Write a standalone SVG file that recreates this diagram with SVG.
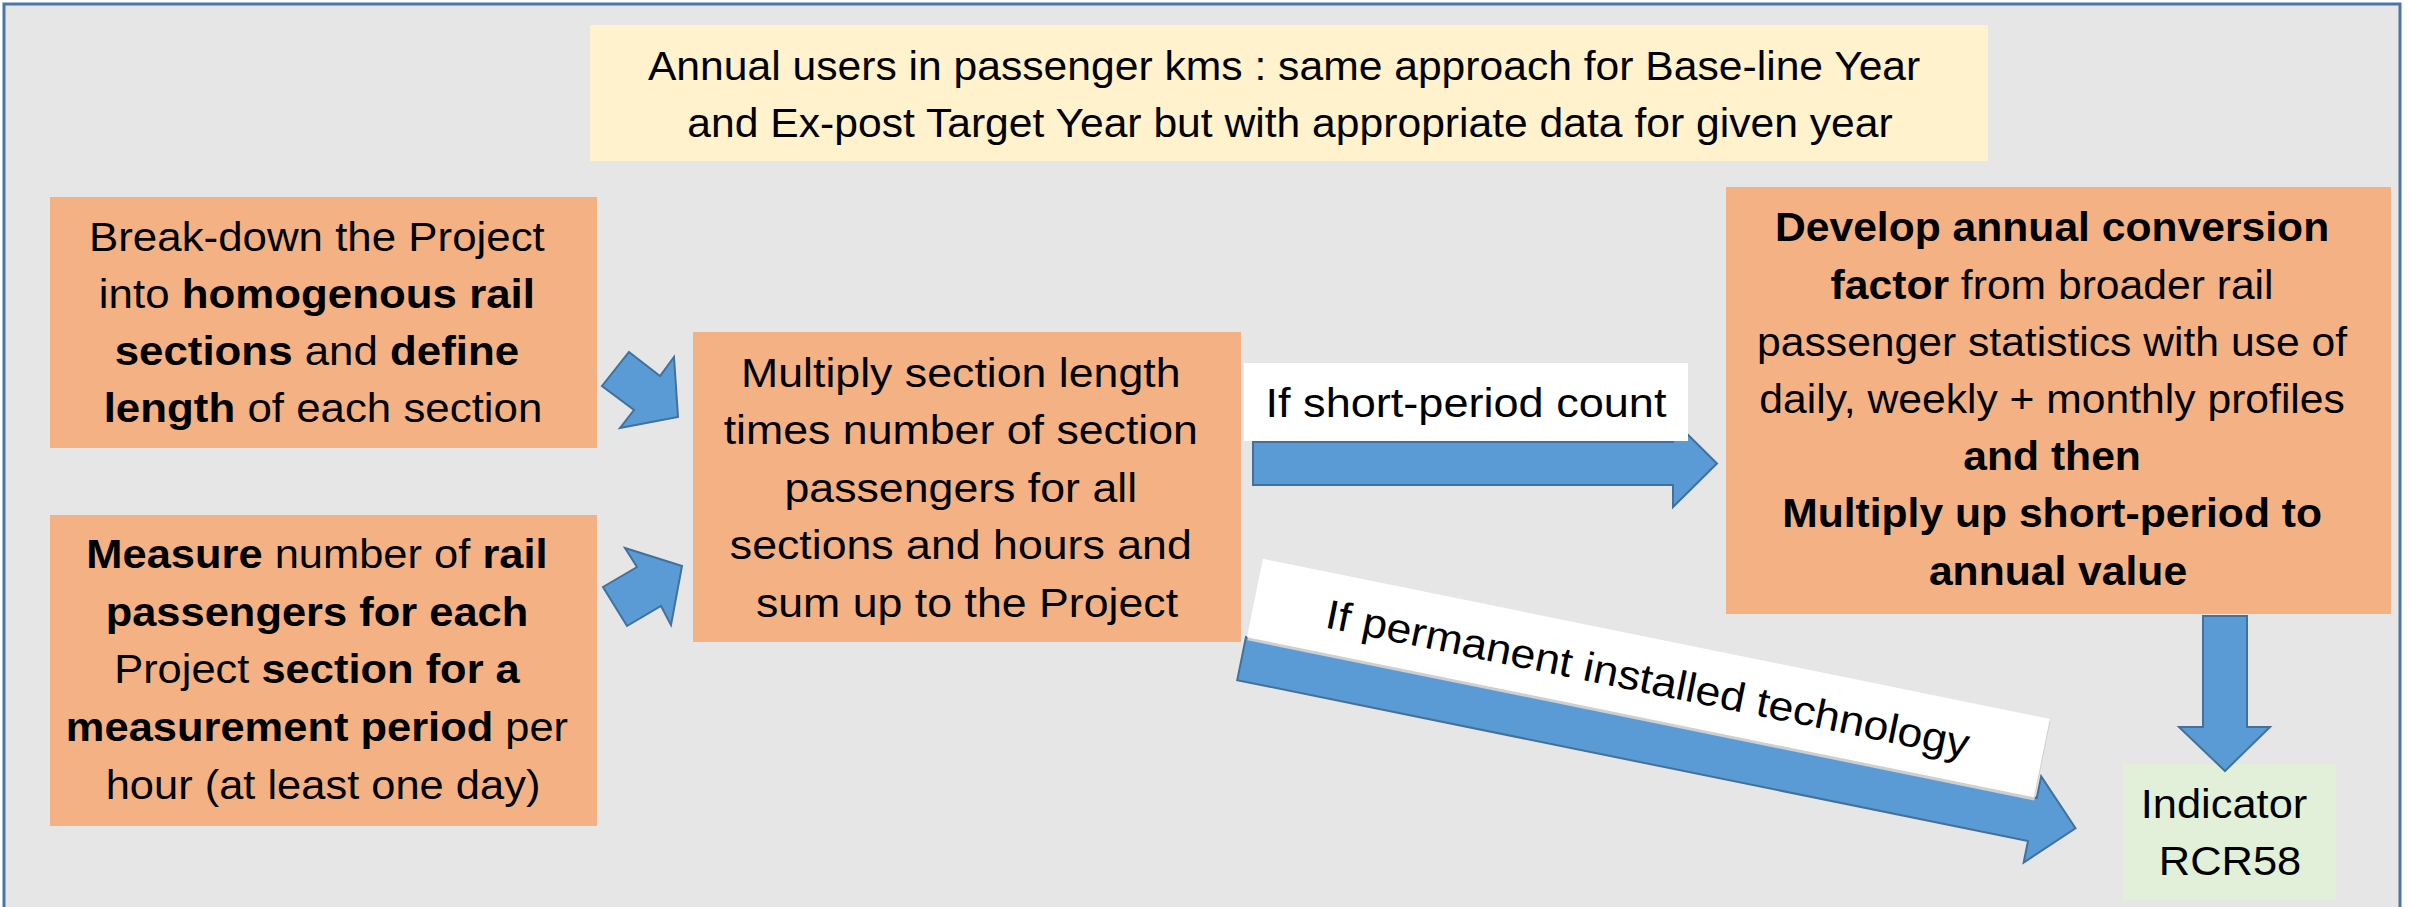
<svg xmlns="http://www.w3.org/2000/svg" width="2412" height="907" viewBox="0 0 2412 907">
  <defs>
    <style>
      .frame { fill: #e7e6e6; stroke: #4a76a8; stroke-width: 3; }
      .note { fill: #fff2cc; }
      .step { fill: #f4b183; }
      .result { fill: #e2f0d9; }
      .label { fill: #ffffff; }
      .shadow { fill: #cfcfcf; }
      .arrow { fill: #5b9bd5; stroke: #41719c; stroke-width: 2; stroke-linejoin: miter; }
      .t { font-family: "Liberation Sans", Arial, sans-serif; font-size: 41px; fill: #000000; text-anchor: middle; }
      .b { font-weight: bold; }
    </style>
  </defs>

  <rect width="2412" height="907" fill="#ffffff"/>
  <rect class="frame" x="4" y="4" width="2396" height="930"/>

  <!-- heading note -->
  <g id="note">
    <rect class="note" x="590" y="25" width="1398" height="136"/>
    <text class="t" transform="translate(1290 0) scale(1.04 1)">
      <tspan x="0" y="80">Annual users in passenger kms : same approach for Base-line Year</tspan>
      <tspan x="0" y="137">and Ex-post Target Year but with appropriate data for given year</tspan>
    </text>
  </g>

  <!-- input steps -->
  <g id="breakdown">
    <rect class="step" x="50" y="197" width="547" height="251"/>
    <text class="t" transform="translate(323 0) scale(1.07 1)">
      <tspan x="0" y="251">Break-down the Project</tspan>
      <tspan x="0" y="308">into <tspan class="b">homogenous rail</tspan></tspan>
      <tspan x="0" y="365"><tspan class="b">sections</tspan> and <tspan class="b">define</tspan></tspan>
      <tspan x="0" y="422"><tspan class="b">length</tspan> of each section</tspan>
    </text>
  </g>

  <g id="measure">
    <rect class="step" x="50" y="515" width="547" height="311"/>
    <text class="t" transform="translate(323 0) scale(1.06 1)">
      <tspan x="0" y="568"><tspan class="b">Measure</tspan> number of <tspan class="b">rail</tspan></tspan>
      <tspan x="0" y="626" class="b">passengers for each</tspan>
      <tspan x="0" y="683.5">Project <tspan class="b">section for a</tspan></tspan>
      <tspan x="0" y="741"><tspan class="b">measurement period</tspan> per</tspan>
      <tspan x="0" y="799">hour (at least one day)</tspan>
    </text>
  </g>

  <g id="multiply">
    <rect class="step" x="693" y="332" width="548" height="310"/>
    <text class="t" transform="translate(967 0) scale(1.09 1)">
      <tspan x="0" y="387">Multiply section length</tspan>
      <tspan x="0" y="444.5">times number of section</tspan>
      <tspan x="0" y="502">passengers for all</tspan>
      <tspan x="0" y="559.5">sections and hours and</tspan>
      <tspan x="0" y="617">sum up to the Project</tspan>
    </text>
  </g>

  <g id="convert">
    <rect class="step" x="1726" y="187" width="665" height="427"/>
    <text class="t" transform="translate(2058 0) scale(1.04 1)">
      <tspan x="0" y="241.5" class="b">Develop annual conversion</tspan>
      <tspan x="0" y="298.7"><tspan class="b">factor</tspan> from broader rail</tspan>
      <tspan x="0" y="355.9">passenger statistics with use of</tspan>
      <tspan x="0" y="413.1">daily, weekly + monthly profiles</tspan>
      <tspan x="0" y="470.3" class="b">and then</tspan>
      <tspan x="0" y="527.5" class="b">Multiply up short-period to</tspan>
      <tspan x="0" y="584.7" class="b">annual value</tspan>
    </text>
  </g>

  <g id="indicator">
    <rect class="result" x="2123" y="764" width="213" height="136"/>
    <text class="t" transform="translate(2230 0) scale(1.06 1)">
      <tspan x="0" y="818">Indicator</tspan>
      <tspan x="0" y="875">RCR58</tspan>
    </text>
  </g>

  <!-- connectors -->
  <g id="connectors">
    <polygon class="arrow" points="629,352 660,376 674,357 678,417 620,428 634,410 602,386"/>
    <polygon class="arrow" points="625,548 682,566 671,625 661,606 627,626 603,587 637,567"/>

    <polygon class="arrow" points="1253,442 1673,442 1673,420 1717,463.5 1673,507 1673,485 1253,485"/>
    <g id="label-short">
      <rect class="label" x="1244" y="363" width="444" height="78"/>
      <text class="t" transform="translate(1466 417) scale(1.1 1)" x="0" y="0">If short-period count</text>
    </g>

    <g transform="translate(1246 637) rotate(11.5)">
      <polygon class="arrow" points="0,0 807,0 807,-22 851,22 807,66 807,44 0,44"/>
      <g id="label-permanent">
        <rect class="shadow" x="2" y="-78" width="803" height="81"/>
        <rect class="label" x="1" y="-80" width="803" height="80"/>
        <text class="t" transform="translate(402 -25) scale(1.09 1)" x="0" y="0">If permanent installed technology</text>
      </g>
    </g>

    <polygon class="arrow" points="2203,616 2247,616 2247,727 2270,727 2225,771 2179,727 2203,727"/>
  </g>
</svg>
